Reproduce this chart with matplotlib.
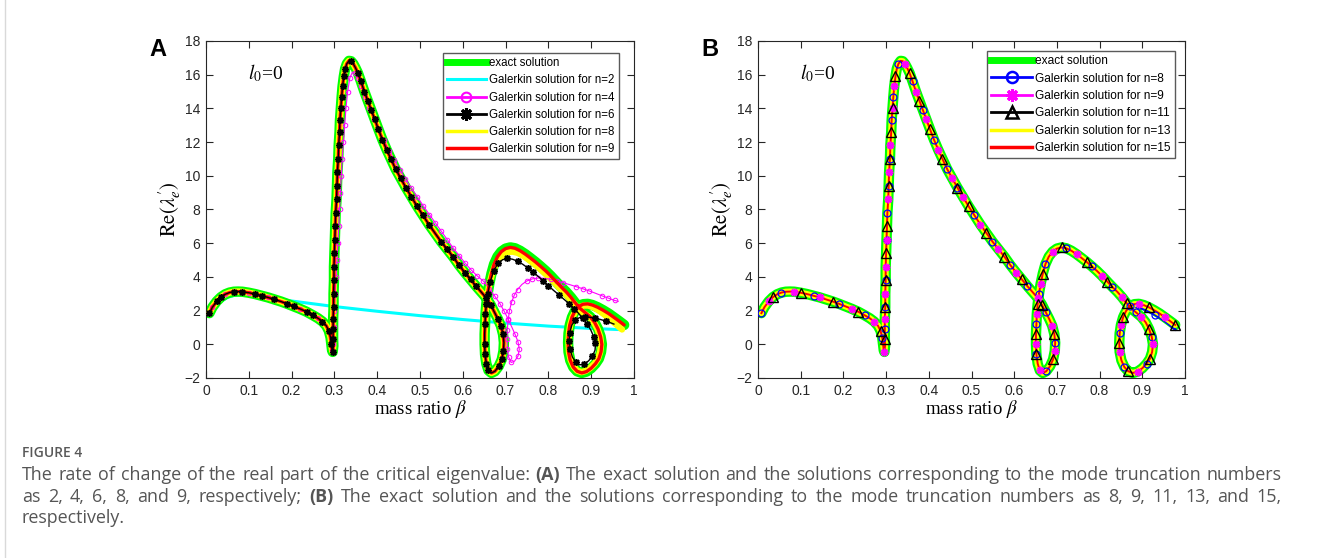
import numpy as np
import matplotlib.pyplot as plt
from matplotlib.lines import Line2D

# exact solution, cut into pieces so the Galerkin curves can reuse them
ex_low = [(0.008, 1.85), (0.015, 2.2), (0.025, 2.55), (0.035, 2.8), (0.045, 2.97), (0.055, 3.07),
          (0.065, 3.12), (0.075, 3.13), (0.085, 3.12), (0.1, 3.06), (0.115, 2.98), (0.13, 2.88),
          (0.145, 2.78), (0.16, 2.66), (0.175, 2.54), (0.19, 2.4), (0.205, 2.25), (0.22, 2.1),
          (0.235, 1.93), (0.25, 1.72), (0.262, 1.54), (0.272, 1.35), (0.281, 1.1), (0.287, 0.8),
          (0.291, 0.4), (0.293, 0.0), (0.2945, -0.35), (0.296, -0.45)]
ex_mid = [(0.2975, -0.1), (0.297, 0.3), (0.297, 0.9), (0.297, 1.5), (0.298, 2.2), (0.298, 3.0),
          (0.299, 3.8), (0.299, 4.6), (0.300, 5.4), (0.301, 6.2), (0.302, 7.0), (0.303, 7.8),
          (0.305, 8.6), (0.306, 9.4), (0.307, 10.2), (0.309, 11.0), (0.310, 11.8), (0.312, 12.6),
          (0.313, 13.3), (0.315, 14.0), (0.317, 14.7), (0.319, 15.3), (0.322, 15.9), (0.325, 16.35),
          (0.329, 16.65), (0.334, 16.82), (0.339, 16.8), (0.344, 16.65), (0.349, 16.42), (0.355, 16.1),
          (0.362, 15.6), (0.370, 15.0), (0.378, 14.45), (0.386, 13.9), (0.394, 13.35), (0.403, 12.75),
          (0.412, 12.15), (0.422, 11.55), (0.432, 11.0), (0.443, 10.4), (0.455, 9.85), (0.467, 9.3),
          (0.480, 8.75), (0.493, 8.2), (0.507, 7.65), (0.521, 7.1), (0.535, 6.6), (0.549, 6.1),
          (0.563, 5.65), (0.577, 5.2), (0.591, 4.7), (0.605, 4.25), (0.618, 3.85), (0.631, 3.45),
          (0.643, 3.1), (0.655, 2.75), (0.665, 2.35), (0.674, 1.9), (0.682, 1.5), (0.689, 1.1),
          (0.694, 0.6), (0.696, 0.1), (0.695, -0.4), (0.691, -0.9), (0.684, -1.3), (0.675, -1.6),
          (0.667, -1.7), (0.660, -1.55), (0.655, -1.15), (0.652, -0.6), (0.651, 0.0), (0.651, 0.6),
          (0.652, 1.2), (0.653, 1.8), (0.655, 2.4)]
ex_hump = [(0.658, 3.0), (0.662, 3.6), (0.667, 4.2), (0.673, 4.75), (0.681, 5.2), (0.69, 5.5),
           (0.7, 5.68), (0.711, 5.75), (0.722, 5.7), (0.734, 5.55), (0.746, 5.35), (0.758, 5.12),
           (0.77, 4.88), (0.782, 4.62), (0.794, 4.35), (0.806, 4.05), (0.818, 3.72), (0.83, 3.4),
           (0.842, 3.1), (0.853, 2.78), (0.863, 2.45), (0.873, 2.15), (0.885, 1.9), (0.898, 1.62),
           (0.908, 1.3), (0.916, 0.9), (0.922, 0.45), (0.925, 0.0), (0.923, -0.45), (0.918, -0.85),
           (0.91, -1.15), (0.9, -1.42), (0.889, -1.62), (0.878, -1.7), (0.867, -1.6), (0.858, -1.35),
           (0.851, -0.95), (0.847, -0.45), (0.846, 0.1), (0.847, 0.65), (0.85, 1.15), (0.855, 1.6),
           (0.862, 1.98), (0.871, 2.25)]
ex_tail = [(0.881, 2.38), (0.892, 2.4), (0.903, 2.33), (0.915, 2.2), (0.928, 2.02), (0.941, 1.82),
           (0.953, 1.6), (0.965, 1.38), (0.977, 1.15)]

# Galerkin n=2 (panel A)
n2_pts = [(0.01, 1.75), (0.02, 2.2), (0.035, 2.55), (0.05, 2.78), (0.065, 2.9), (0.08, 2.95),
          (0.1, 2.92), (0.15, 2.75), (0.2, 2.57), (0.3, 2.24), (0.4, 1.96), (0.5, 1.7),
          (0.6, 1.47), (0.7, 1.26), (0.8, 1.08), (0.9, 0.94), (0.97, 0.87)]
# Galerkin n=4 after the cusp at beta~0.3 (panel A)
n4_tail = [(0.297, 0.0), (0.299, 1.0), (0.3, 2.0), (0.302, 3.0), (0.304, 4.0), (0.306, 5.0),
           (0.308, 6.0), (0.31, 7.0), (0.312, 8.0), (0.314, 9.0), (0.316, 10.0), (0.318, 11.0),
           (0.321, 12.0), (0.324, 13.0), (0.327, 14.0), (0.331, 15.0), (0.336, 15.8), (0.342, 16.15),
           (0.348, 16.1), (0.355, 15.8), (0.363, 15.3), (0.372, 14.7), (0.382, 14.05), (0.393, 13.4),
           (0.404, 12.75), (0.416, 12.1), (0.428, 11.5), (0.44, 10.95), (0.453, 10.35), (0.466, 9.8),
           (0.48, 9.25), (0.494, 8.75), (0.508, 8.2), (0.522, 7.7), (0.536, 7.2), (0.55, 6.7),
           (0.564, 6.2), (0.578, 5.7), (0.592, 5.25), (0.606, 4.8), (0.62, 4.4), (0.634, 4.05),
           (0.648, 3.75), (0.662, 3.3), (0.675, 2.85), (0.687, 2.4), (0.697, 1.95), (0.706, 1.5),
           (0.714, 1.05), (0.722, 0.6), (0.729, 0.15), (0.732, -0.3), (0.729, -0.7), (0.721, -1.0),
           (0.713, -1.08), (0.707, -0.75), (0.704, -0.25), (0.703, 0.3), (0.704, 0.85), (0.706, 1.45),
           (0.709, 2.0), (0.714, 2.5), (0.72, 2.9), (0.728, 3.25), (0.738, 3.55), (0.749, 3.75),
           (0.762, 3.88), (0.776, 3.93), (0.79, 3.92), (0.805, 3.86), (0.82, 3.76), (0.835, 3.65),
           (0.85, 3.54), (0.865, 3.42), (0.88, 3.3), (0.895, 3.17), (0.91, 3.03), (0.925, 2.88),
           (0.94, 2.74), (0.955, 2.6), (0.963, 2.55)]
# Galerkin n=6 after the first loop (panel A)
n6_tail = [(0.658, 3.0), (0.664, 3.7), (0.672, 4.35), (0.682, 4.8), (0.693, 5.02), (0.704, 5.1),
           (0.716, 5.05), (0.728, 4.93), (0.74, 4.75), (0.752, 4.53), (0.764, 4.3), (0.776, 4.03),
           (0.788, 3.77), (0.8, 3.48), (0.812, 3.2), (0.824, 2.95), (0.836, 2.68), (0.848, 2.42),
           (0.86, 2.12), (0.87, 1.85), (0.88, 1.55), (0.89, 1.22), (0.899, 0.85), (0.906, 0.45),
           (0.91, 0.05), (0.909, -0.35), (0.903, -0.7), (0.894, -0.98), (0.884, -1.17), (0.873, -1.22),
           (0.864, -1.08), (0.856, -0.75), (0.851, -0.3), (0.849, 0.2), (0.85, 0.7), (0.855, 1.15),
           (0.863, 1.45), (0.874, 1.6), (0.886, 1.63), (0.898, 1.6), (0.91, 1.55), (0.922, 1.47),
           (0.934, 1.38), (0.945, 1.28), (0.953, 1.2)]
# Galerkin n=8 after the first loop (panel A)
n8a_tail = [(0.658, 2.95), (0.662, 3.55), (0.668, 4.15), (0.675, 4.65), (0.684, 5.05), (0.694, 5.32),
            (0.705, 5.47), (0.716, 5.5), (0.728, 5.43), (0.74, 5.27), (0.752, 5.06), (0.764, 4.83),
            (0.776, 4.58), (0.788, 4.3), (0.8, 4.02), (0.812, 3.72), (0.824, 3.4), (0.836, 3.08),
            (0.848, 2.76), (0.86, 2.42), (0.87, 2.12), (0.882, 1.85), (0.896, 1.62), (0.907, 1.28),
            (0.915, 0.9), (0.921, 0.45), (0.923, 0.0), (0.921, -0.45), (0.916, -0.85), (0.908, -1.15),
            (0.898, -1.4), (0.887, -1.58), (0.877, -1.65), (0.867, -1.56), (0.859, -1.32), (0.852, -0.93),
            (0.848, -0.45), (0.847, 0.1), (0.848, 0.65), (0.851, 1.15), (0.856, 1.6), (0.863, 1.95),
            (0.872, 2.2), (0.882, 2.3), (0.893, 2.3), (0.905, 2.2), (0.917, 2.02), (0.929, 1.8),
            (0.941, 1.56), (0.952, 1.32), (0.962, 1.1), (0.972, 0.88)]
# Galerkin n=8 after the second loop (panel B)
n8b_tail = [(0.884, 2.22), (0.9, 2.12), (0.915, 1.95), (0.93, 1.75), (0.945, 1.52), (0.958, 1.28),
            (0.968, 1.07), (0.977, 0.88)]

legend_a = ['exact solution', 'Galerkin solution for n=2', 'Galerkin solution for n=4',
            'Galerkin solution for n=6', 'Galerkin solution for n=8', 'Galerkin solution for n=9']
legend_b = ['exact solution', 'Galerkin solution for n=8', 'Galerkin solution for n=9',
            'Galerkin solution for n=11', 'Galerkin solution for n=13', 'Galerkin solution for n=15']

caption = [
    [('The rate of change of the real part of the critical eigenvalue:', 'normal'), ('(A)', 'bold'),
     ('The exact solution and the solutions corresponding to the mode truncation numbers', 'normal')],
    [('as 2, 4, 6, 8, and 9, respectively;', 'normal'), ('(B)', 'bold'),
     ('The exact solution and the solutions corresponding to the mode truncation numbers as 8, 9, 11, 13, and 15,', 'normal')],
    [('respectively.', 'normal')],
]


def xy(*parts):
    pts = [p for part in parts for p in part]
    return [p[0] for p in pts], [p[1] for p in pts]


exact = xy(ex_low, ex_mid, ex_hump, ex_tail)
n2 = xy(n2_pts)
n4 = xy(ex_low, n4_tail)
n6 = xy(ex_low, ex_mid, n6_tail)
n8a = xy(ex_low, ex_mid, n8a_tail)
n8b = xy(ex_low, ex_mid, ex_hump, n8b_tail)

plt.rcParams['font.family'] = 'Liberation Sans'
plt.rcParams['mathtext.fontset'] = 'stix'

G, C, M, K, Y, R, B = '#00ff00', '#00ffff', '#ff00ff', 'black', '#ffff00', '#ff0000', '#0000ff'
AST = (8, 2, 0)

fig = plt.figure(figsize=(13.3, 5.58), dpi=100)
W, H = 1330, 558
axA = fig.add_axes([206 / W, 1 - 378 / H, 428 / W, 337 / H])
axB = fig.add_axes([758 / W, 1 - 378 / H, 427 / W, 337 / H])

# panel A
axA.plot(*n2, color=C, lw=2.2, zorder=1)
axA.plot(*exact, color=G, lw=7.5, zorder=2, solid_capstyle='round')
axA.plot(*n8a, color=Y, lw=4.6, zorder=3, solid_capstyle='round')
axA.plot(*n4, color=M, lw=0.8, marker='o', ms=3.3, mfc='none', mew=0.7, markevery=0.016, zorder=4)
axA.plot(*exact, color=R, lw=2.4, zorder=5, solid_capstyle='round')
axA.plot(*n6, color=K, lw=1.0, marker=AST, ms=5, mew=1.1, markevery=0.02, zorder=6)

hA = [Line2D([], [], color=G, lw=5),
      Line2D([], [], color=C, lw=2.2),
      Line2D([], [], color=M, lw=2, marker='o', ms=7, mfc='none', mew=1.5),
      Line2D([], [], color=K, lw=2, marker=AST, ms=9, mew=2.2),
      Line2D([], [], color=Y, lw=2.5),
      Line2D([], [], color=R, lw=2.5)]
axA.legend(hA, legend_a, loc='upper right', bbox_to_anchor=(0.965, 0.964), borderaxespad=0,
           fontsize=8.3, fancybox=False, framealpha=1, edgecolor='#5a5a5a', handlelength=3.4,
           handletextpad=0.3, labelspacing=0.45, borderpad=0.35)

# panel B
axB.plot(*exact, color=G, lw=7.5, zorder=1, solid_capstyle='round')
axB.plot(*n8b, color=B, lw=1.8, zorder=2)
axB.plot(*exact, color=M, lw=1.0, zorder=2)
axB.plot(*exact, color=K, lw=1.0, zorder=2)
axB.plot(*exact, color=Y, lw=4.4, zorder=3, solid_capstyle='round')
axB.plot(*exact, color=R, lw=1.4, zorder=4)
axB.plot(*n8b, ls='none', marker='o', ms=5, mfc='none', mec=B, mew=0.9, markevery=(0.0, 0.055), zorder=6)
axB.plot(*exact, ls='none', marker=AST, ms=5.5, mec=M, mew=1.2, markevery=(0.02, 0.055), zorder=7)
axB.plot(*exact, ls='none', marker='^', ms=6.5, mfc='none', mec=K, mew=1.0, markevery=(0.04, 0.055), zorder=8)

hB = [Line2D([], [], color=G, lw=5),
      Line2D([], [], color=B, lw=2, marker='o', ms=8, mfc='none', mew=1.8),
      Line2D([], [], color=M, lw=2, marker=AST, ms=9, mew=2.2),
      Line2D([], [], color=K, lw=2, marker='^', ms=9, mfc='none', mew=1.8),
      Line2D([], [], color=Y, lw=2.5),
      Line2D([], [], color=R, lw=2.5)]
axB.legend(hB, legend_b, loc='upper right', bbox_to_anchor=(0.977, 0.97), borderaxespad=0,
           fontsize=8.6, fancybox=False, framealpha=1, edgecolor='#5a5a5a', handlelength=3.4,
           handletextpad=0.3, labelspacing=0.45, borderpad=0.35)

for ax, letter in ((axA, 'A'), (axB, 'B')):
    ax.set_xlim(0, 1)
    ax.set_ylim(-2, 18)
    ax.set_xticks(np.arange(0, 1.01, 0.1))
    ax.set_xticklabels(['0', '0.1', '0.2', '0.3', '0.4', '0.5', '0.6', '0.7', '0.8', '0.9', '1'])
    ax.set_yticks(np.arange(-2, 19, 2))
    ax.tick_params(direction='in', top=True, right=True, length=5, width=0.8,
                   labelsize=10, labelcolor='#262626', color='#262626', pad=4)
    for s in ax.spines.values():
        s.set_color('#262626')
        s.set_linewidth(0.8)
    ax.set_xlabel(r'mass ratio $\beta$', family='Liberation Serif', fontsize=13.5, labelpad=0)
    ax.set_ylabel(r'$\mathrm{Re}(\lambda_e^{\prime})$', fontsize=15, labelpad=1)
    ax.text(0.098, 16.1, r'$l_0$=0', family='Liberation Serif', fontsize=14, va='center')
    bb = ax.get_position()
    fig.text(bb.x0 - 57 / W, 1 - 50 / H, letter, fontsize=17, fontweight='bold',
             family='Liberation Sans', va='center')

# caption, justified like the journal layout
cap_x0, cap_x1, cap_fs = 22, 1282, 12.9
fig.text(cap_x0 / W, 1 - 453 / H, 'FIGURE 4', family='Open Sans', fontweight='semibold',
         fontsize=10, color='#595959', va='center')

renderer = fig.canvas.get_renderer()


def width_px(s, w):
    t = fig.text(0, 0, s, family='Open Sans', fontsize=cap_fs, fontweight=w)
    e = t.get_window_extent(renderer).width
    t.remove()
    return e


space = width_px('a a', 'normal') - width_px('aa', 'normal')

for row, (yline, parts) in enumerate(zip((475, 497, 518), caption)):
    words = [(wd, w) for s, w in parts for wd in s.split(' ')]
    widths = [width_px(wd, w) for wd, w in words]
    if row < len(caption) - 1:
        gap = (cap_x1 - cap_x0 - sum(widths)) / (len(words) - 1)
    else:
        gap = space
    x = cap_x0
    for (wd, w), wpx in zip(words, widths):
        fig.text(x / W, 1 - yline / H, wd, family='Open Sans', fontsize=cap_fs, fontweight=w,
                 color='#555555', va='center')
        x += wpx + gap

fig.add_artist(Line2D([5 / W, 5 / W], [0, 1], color='#d9d9d9', lw=1))

fig.savefig('out.png', dpi=100)
